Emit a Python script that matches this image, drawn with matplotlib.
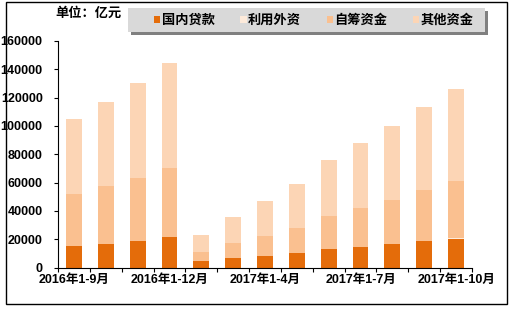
import matplotlib.pyplot as plt
from matplotlib.patches import Rectangle
import numpy as np

plt.rcParams['font.family'] = ['Liberation Sans', 'Noto Sans CJK SC', 'DejaVu Sans']
plt.rcParams['font.weight'] = 'bold'

# 房地产开发企业到位资金（亿元）
months = ['2016年1-9月', '2016年1-10月', '2016年1-11月', '2016年1-12月',
          '2017年1-2月', '2017年1-3月', '2017年1-4月', '2017年1-5月',
          '2017年1-6月', '2017年1-7月', '2017年1-8月', '2017年1-9月', '2017年1-10月']
domestic_loans = [15200, 16800, 18700, 21300, 4800, 6500, 8300, 10000, 12900, 14700, 16400, 18500, 20400]
foreign_capital = [110, 120, 130, 140, 20, 35, 50, 60, 80, 100, 110, 130, 140]
self_raised = [36600, 40900, 44700, 49100, 6400, 10800, 14200, 18100, 23600, 27500, 31400, 36400, 40800]
other_funds = [53100, 59200, 66500, 73700, 11800, 18400, 24500, 31100, 39400, 45500, 52300, 58000, 64900]

series = [('国内贷款', domestic_loans, '#E46C0A'),
          ('利用外资', foreign_capital, '#FDEADA'),
          ('自筹资金', self_raised, '#FAC090'),
          ('其他资金', other_funds, '#FCD5B5')]

W, H = 515, 311
fig = plt.figure(figsize=(W / 100, H / 100), dpi=100)
ax = fig.add_axes([58 / W, 1 - 267.5 / H, (472 - 58) / W, (267.5 - 41) / H])

x = np.arange(len(months))
bottom = np.zeros(len(months))
handles = []
for name, vals, color in series:
    b = ax.bar(x, vals, 0.5, bottom=bottom, color=color, label=name, linewidth=0)
    handles.append(b)
    bottom += np.array(vals)

ax.set_xlim(-0.5, len(months) - 0.5)
ax.set_ylim(0, 160000)
ax.set_yticks(range(0, 160001, 20000))
ax.set_yticklabels([str(v) for v in range(0, 160001, 20000)], fontsize=9)
ax.set_xticks(x[::3])
ax.set_xticklabels(months[::3], fontsize=9)
ax.tick_params(axis='x', length=0, pad=5)
ax.set_xticks(np.arange(-0.5, len(months), 1), minor=True)
ax.tick_params(axis='x', which='minor', length=3, direction='out', width=0.8)
ax.tick_params(axis='y', length=3, direction='out', width=0.8, pad=8)
for s in ['top', 'right']:
    ax.spines[s].set_visible(False)
for s in ['left', 'bottom']:
    ax.spines[s].set_linewidth(0.8)

fig.text(55 / W, 1 - 14 / H, '单位：亿元', fontsize=9.5, fontweight='bold',
         ha='left', va='center')

# legend box with shadow
fig.patches.append(Rectangle((131 / W, 1 - 35 / H), 357 / W, 24 / H,
                             transform=fig.transFigure, facecolor='#808080',
                             edgecolor='none', zorder=0))
fig.patches.append(Rectangle((128 / W, 1 - 32 / H), 357 / W, 24 / H,
                             transform=fig.transFigure, facecolor='#D9D9D9',
                             edgecolor='none', zorder=1))
leg = fig.legend(handles=handles, loc='center left', ncol=4,
                 bbox_to_anchor=(154 / W, 1 - 20.5 / H),
                 fontsize=9.5, frameon=False,
                 handlelength=0.48, handleheight=0.45, handletextpad=0.1,
                 columnspacing=1.95, borderpad=0, borderaxespad=0)
leg.set_zorder(5)

fig.patches.append(Rectangle((6 / W, 1 - 304 / H), 501 / W, 302 / H,
                             transform=fig.transFigure, fill=False,
                             edgecolor='black', linewidth=1))

fig.savefig('out.png', dpi=100)
